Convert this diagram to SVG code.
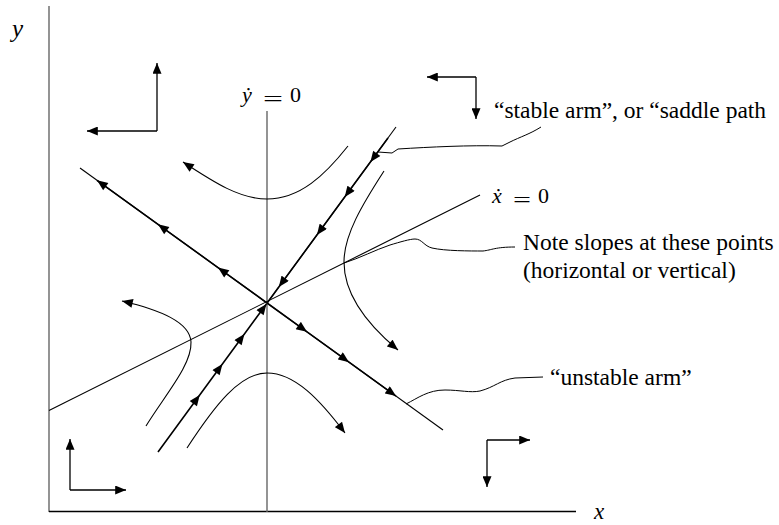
<svg xmlns="http://www.w3.org/2000/svg" width="779" height="525" viewBox="0 0 779 525">
<defs>
<marker id="ah" viewBox="0 0 12 10" refX="12" refY="5" markerWidth="12" markerHeight="9" markerUnits="userSpaceOnUse" orient="auto"><path d="M0,0 L12,5 L0,10 z" fill="#000"/></marker>
<style>
.ln{fill:none;stroke:#000;stroke-width:1.1}
.gr{fill:none;stroke:#666;stroke-width:1.4}
.arm{fill:none;stroke:#000;stroke-width:1.6}
.arr{fill:none;stroke:#000;stroke-width:1.3;marker-end:url(#ah)}
.tr{fill:none;stroke:#000;stroke-width:1.1;marker-end:url(#ah)}
.mk{marker-mid:url(#ah);marker-end:url(#ah)}
.pt{fill:none;stroke:#000;stroke-width:1}
.t{font-family:"Liberation Serif","Times New Roman",serif;font-size:23.5px;fill:#000}
.m{font-family:"Liberation Serif","Times New Roman",serif;font-size:22px;fill:#000}
.i{font-style:italic}
</style>
</defs>
<rect width="779" height="525" fill="#fff"/>

<g id="axes">
<line class="gr" x1="49" y1="6" x2="49" y2="512"/>
<line class="ln" x1="49" y1="511.5" x2="576" y2="511.5" style="stroke-width:1.4"/>
<text class="m i" x="12" y="37" style="font-size:25px">y</text>
<text class="m i" x="594" y="519" style="font-size:23px">x</text>
</g>

<g id="ydot-null">
<line class="gr" x1="267" y1="111" x2="267" y2="512"/>
<text class="m"><tspan class="i" x="242" y="102">ẏ</tspan></text>
<text class="m" x="263" y="106" textLength="20" lengthAdjust="spacingAndGlyphs">=</text>
<text class="m" x="290" y="102">0</text>
</g>

<g id="xdot-null">
<line class="ln" x1="49" y1="410.5" x2="480" y2="195"/>
<text class="m"><tspan class="i" x="492" y="203">ẋ</tspan></text>
<text class="m" x="513" y="207" textLength="18" lengthAdjust="spacingAndGlyphs">=</text>
<text class="m" x="538" y="203">0</text>
</g>

<g id="stable-arm">
<line class="ln" x1="396" y1="127" x2="267.5" y2="302.5"/>
<polyline class="arm mk" points="388,138 370.4,162 344.7,197 316.9,235 278.8,287"/>
<line class="arm" x1="278.8" y1="287" x2="267.5" y2="302.5"/>
<polyline class="arm mk" points="158,452 199.7,395 222.4,364 244.4,334 266.4,304"/>
</g>

<g id="unstable-arm">
<line class="ln" x1="80" y1="168" x2="443" y2="430"/>
<polyline class="arm mk" points="267,303 218,267.6 158,224.3 97,180.3"/>
<polyline class="arm mk" points="267,303 307,331.8 349,362.2 396,396.1"/>
</g>

<g id="trajectories">
<path class="tr" d="M 348 146 C 325 175, 300 199, 267 199 C 240 199, 215 183, 183 162"/>
<path class="tr" d="M 187 448 C 215 405, 240 373, 267 373 C 295 373, 320 400, 345 433"/>
<path class="tr" d="M 384 171 C 362 205, 344 235, 344 262 C 344 295, 368 325, 398 350"/>
<path class="tr" d="M 146 426 C 165 395, 192 365, 191 342 C 190 322, 160 310, 122 301"/>
</g>

<g id="direction-arrows">
<path class="arr" d="M157,131 V63"/>
<path class="arr" d="M157,131 H87"/>
<path class="arr" d="M476,77 H427"/>
<path class="arr" d="M476,77 V119"/>
<path class="arr" d="M70,490 V439"/>
<path class="arr" d="M70,490 H126"/>
<path class="arr" d="M487,440 V487"/>
<path class="arr" d="M487,440 H530"/>
</g>

<g id="connectors">
<path class="pt" d="M 378 152 L 392 153 L 398 149 C 430 147, 470 145, 502 146 L 510 142 C 520 137, 530 134, 541 127"/>
<path class="pt" d="M 344 263 C 360 258, 375 250, 390 245 C 400 242, 410 239, 415 239 C 422 239, 424 246, 432 248 C 445 251, 470 251, 483 251 C 492 250, 495 247, 515 247"/>
<path class="pt" d="M 406 404 C 418 398, 428 390, 445 390 C 460 390, 470 393, 480 391 C 495 387, 500 380, 515 378 L 543 377"/>
</g>

<g id="labels">
<text class="t" x="494" y="118">“stable arm”, or “saddle path</text>
<text class="t" x="523" y="250">Note slopes at these points</text>
<text class="t" x="523" y="278">(horizontal or vertical)</text>
<text class="t" x="550" y="385">“unstable arm”</text>
</g>
</svg>
